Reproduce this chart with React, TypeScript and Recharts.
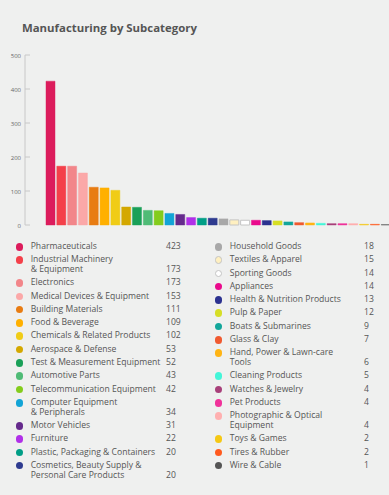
import { Bar, BarChart, Cell, XAxis, YAxis } from "recharts";

const categories = [
  "Pharmaceuticals",
  "Industrial Machinery\n& Equipment",
  "Electronics",
  "Medical Devices & Equipment",
  "Building Materials",
  "Food & Beverage",
  "Chemicals & Related Products",
  "Aerospace & Defense",
  "Test & Measurement Equipment",
  "Automotive Parts",
  "Telecommunication Equipment",
  "Computer Equipment\n& Peripherals",
  "Motor Vehicles",
  "Furniture",
  "Plastic, Packaging & Containers",
  "Cosmetics, Beauty Supply &\nPersonal Care Products",
  "Household Goods",
  "Textiles & Apparel",
  "Sporting Goods",
  "Appliances",
  "Health & Nutrition Products",
  "Pulp & Paper",
  "Boats & Submarines",
  "Glass & Clay",
  "Hand, Power & Lawn-care\nTools",
  "Cleaning Products",
  "Watches & Jewelry",
  "Pet Products",
  "Photographic & Optical\nEquipment",
  "Toys & Games",
  "Tires & Rubber",
  "Wire & Cable",
];

const counts = [
  423, 173, 173, 153, 111, 109, 102, 53, 52, 43, 42, 34, 31, 22, 20, 20,
  18, 15, 14, 14, 13, 12, 9, 7, 6, 5, 4, 4, 4, 2, 2, 1,
];

const colors = [
  "#dc1c5c", "#f4404a", "#f2868a", "#fba8a8", "#e87c12", "#ffb000",
  "#f0cc16", "#d4a800", "#1aa058", "#4fbb76", "#84cc1c", "#12a4d6",
  "#652a8c", "#b030e8", "#009e86", "#2e3b8f", "#a8a8a8", "#fff0c0",
  "#ffffff", "#ea0a8c", "#2c3290", "#d6de26", "#12a69a", "#f05a30",
  "#ffb414", "#44f5d8", "#a8407a", "#f0329a", "#ffb0b0", "#f5c814",
  "#ff5a1e", "#555555",
];

const yTicks = [0, 100, 200, 300, 400, 500];

const data = categories.map((name, i) => ({
  name,
  count: counts[i],
  color: colors[i],
}));

// white-ish colours get a gray outline, others a lighter tint of themselves
function isLight(hex: string) {
  const r = parseInt(hex.slice(1, 3), 16);
  const g = parseInt(hex.slice(3, 5), 16);
  const b = parseInt(hex.slice(5, 7), 16);
  return (0.299 * r + 0.587 * g + 0.114 * b) / 255 > 0.88;
}
const outline = (c: string) => (isLight(c) ? "#c4c4c4" : c + "70");

const FONT = "'Open Sans', 'DejaVu Sans', sans-serif";
const TEXT = "#555";

function YTick(props: any) {
  const { x, y, payload } = props;
  return (
    <g>
      <line x1={x} x2={x + 5} y1={y} y2={y} stroke="#c8c8c8" />
      <text
        x={x - 4}
        y={y}
        dy={2.5}
        textAnchor="end"
        fontSize={6}
        fill="#666"
        fontFamily={FONT}
      >
        {payload.value}
      </text>
    </g>
  );
}

function LegendColumn({
  rows,
  left,
  nameWidth,
}: {
  rows: typeof data;
  left: number;
  nameWidth: number;
}) {
  return (
    <div style={{ position: "absolute", left, top: 242 }}>
      {rows.map((r) => (
        <div
          key={r.name}
          style={{
            display: "flex",
            alignItems: "flex-start",
            lineHeight: "9.7px",
            paddingBottom: 3.6,
          }}
        >
          <span
            style={{
              width: 7.6,
              height: 7.6,
              borderRadius: "50%",
              background: r.color,
              boxSizing: "border-box",
              border: isLight(r.color) ? "1px solid #c4c4c4" : "none",
              marginTop: 1,
              flex: "none",
            }}
          />
          <span
            style={{
              width: nameWidth,
              marginLeft: 7.6,
              whiteSpace: "pre-line",
            }}
          >
            {r.name}
          </span>
          <span style={{ alignSelf: "flex-end" }}>{r.count}</span>
        </div>
      ))}
    </div>
  );
}

export default function App() {
  return (
    <div
      style={{
        position: "fixed",
        left: 0,
        top: 0,
        width: 389,
        height: 495,
        overflow: "hidden",
        background: "#eff0ef",
        fontFamily: FONT,
        color: TEXT,
        fontSize: 8.6,
      }}
    >
      <div
        style={{
          position: "absolute",
          left: 22,
          top: 21.8,
          fontSize: 11.4,
          lineHeight: "12px",
          fontWeight: 700,
          color: TEXT,
        }}
      >
        Manufacturing by Subcategory
      </div>
      <div style={{ position: "absolute", left: 0, top: 0 }}>
        <BarChart
          width={391}
          height={240}
          data={data}
          margin={{ top: 55, right: 0, bottom: 15, left: 0 }}
        >
          <XAxis dataKey="name" hide padding={{ left: 20, right: 0 }} />
          <YAxis
            width={25}
            domain={[0, 500]}
            ticks={yTicks}
            interval={0}
            tickSize={0}
            tickMargin={0}
            tickLine={false}
            axisLine={{ stroke: "#c8c8c8" }}
            tick={<YTick />}
          />
          <Bar dataKey="count" barSize={9} isAnimationActive={false}>
            {data.map((d) => (
              <Cell key={d.name} fill={d.color} stroke={outline(d.color)} strokeWidth={1} />
            ))}
          </Bar>
        </BarChart>
      </div>
      <LegendColumn rows={data.slice(0, 16)} left={15.5} nameWidth={135.3} />
      <LegendColumn rows={data.slice(16)} left={214.5} nameWidth={134.4} />
    </div>
  );
}
